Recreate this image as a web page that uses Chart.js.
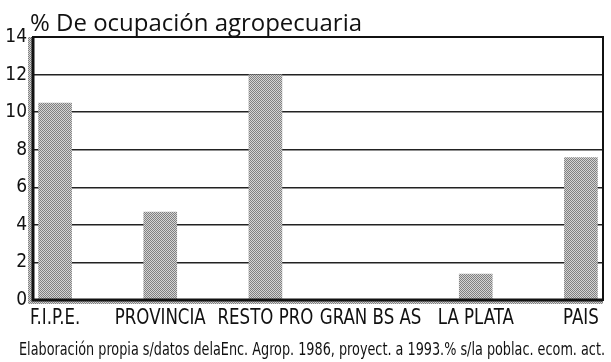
<!DOCTYPE html>
<html>
<head>
<meta charset="utf-8">
<title>% De ocupación agropecuaria</title>
<script src="https://cdn.jsdelivr.net/npm/chart.js@4"></script>
<style>
  html, body { margin: 0; padding: 0; background: #fff; }
  #wrap { width: 611px; height: 362px; }
</style>
</head>
<body>
<div id="wrap"><canvas id="ocupChart" width="611" height="362"></canvas></div>
<script>
const regions = ["F.I.P.E.", "PROVINCIA", "RESTO PRO", "GRAN BS AS", "LA PLATA", "PAIS"];
const ocupacion = [10.5, 4.7, 12.0, 0, 1.4, 7.6];
const yTicks = [0, 2, 4, 6, 8, 10, 12, 14];
const titleText = "% De ocupación agropecuaria";
const sourceText = "Elaboración propia s/datos delaEnc. Agrop. 1986, proyect. a 1993.% s/la poblac. ecom. act.";

const narrow = "'Liberation Sans Narrow', 'DejaVu Sans Condensed', sans-serif";

// halftone grey like the printed bars
function dotPattern() {
  const c = document.createElement("canvas");
  c.width = 2; c.height = 2;
  const g = c.getContext("2d");
  g.fillStyle = "#d4d4d4"; g.fillRect(0, 0, 2, 2);
  g.fillStyle = "#808080"; g.fillRect(0, 0, 1, 1); g.fillRect(1, 1, 1, 1);
  return g.createPattern(c, "repeat");
}

const ctx = document.getElementById("ocupChart").getContext("2d");
const grey = dotPattern();

const frame = {
  id: "frame",
  beforeDatasetsDraw(chart) {
    const { ctx, chartArea: a } = chart;
    ctx.save();
    // grey shadow strips along the axes
    ctx.fillStyle = grey;
    ctx.fillRect(a.left - 5, a.top, 4, a.bottom - a.top + 4);
    ctx.fillRect(a.left - 5, a.bottom + 1, a.right - a.left + 5, 3);
    ctx.restore();
  },
  afterDatasetsDraw(chart) {
    const { ctx, chartArea: a } = chart;
    ctx.save();
    ctx.strokeStyle = "#111";
    ctx.lineWidth = 2;
    ctx.strokeRect(a.left, a.top, a.right - a.left, a.bottom - a.top);
    ctx.lineWidth = 3;
    ctx.beginPath();
    ctx.moveTo(a.left, a.top);
    ctx.lineTo(a.left, a.bottom);
    ctx.lineTo(a.right, a.bottom);
    ctx.stroke();
    ctx.restore();
  },
  afterDraw(chart) {
    const { ctx, chartArea: a } = chart;
    const xs = chart.scales.x;
    ctx.save();
    ctx.fillStyle = "#111";
    ctx.textBaseline = "alphabetic";
    // category names, squeezed like the condensed print face
    ctx.font = "22px " + narrow;
    ctx.textAlign = "center";
    regions.forEach((r, i) => {
      const w = ctx.measureText(r).width * 0.84;
      ctx.fillText(r, xs.getPixelForValue(i), a.bottom + 24, w);
    });
    ctx.textAlign = "left";
    ctx.font = "24px 'Open Sans', sans-serif";
    ctx.fillText(titleText, a.left - 3, a.top - 6, 332);
    ctx.font = "18px " + narrow;
    ctx.fillText(sourceText, 19, 355, 586);
    ctx.restore();
  }
};

new Chart(ctx, {
  type: "bar",
  data: {
    datasets: [{
      data: ocupacion.map((v, i) => ({ x: i, y: v })),
      backgroundColor: grey,
      borderWidth: 0,
      barPercentage: 0.32,
      categoryPercentage: 1
    }]
  },
  options: {
    responsive: false,
    animation: false,
    layout: { padding: { top: 37, right: 8, bottom: 34, left: 0 } },
    plugins: { legend: { display: false }, tooltip: { enabled: false } },
    scales: {
      x: {
        type: "linear",
        offset: false,
        min: -0.21,
        max: regions.length - 1 + 0.21,
        grid: { display: false, drawTicks: false },
        border: { display: false },
        afterFit: s => { s.height = 28; },
        afterBuildTicks: s => { s.ticks = regions.map((r, i) => ({ value: i })); },
        ticks: { display: false }
      },
      y: {
        min: 0,
        max: 14,
        afterFit: s => { s.width = 33; },
        afterBuildTicks: s => { s.ticks = yTicks.map(v => ({ value: v })); },
        grid: { color: "#222", lineWidth: 1.5, drawTicks: false },
        border: { display: false },
        ticks: {
          padding: 6,
          color: "#111",
          font: { family: narrow, size: 19 }
        }
      }
    }
  },
  plugins: [frame]
});
</script>
</body>
</html>
